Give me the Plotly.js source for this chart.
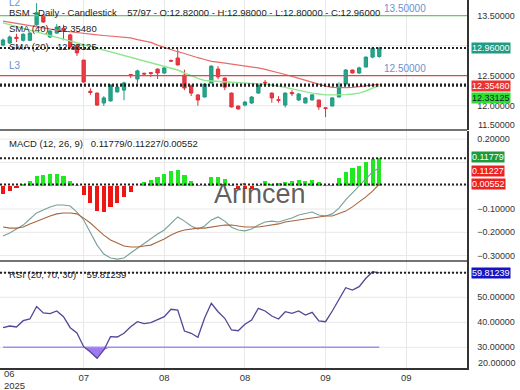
<!DOCTYPE html>
<html><head><meta charset="utf-8">
<script src="https://cdn.plot.ly/plotly-3.0.1.min.js"></script>
<style>html,body{margin:0;padding:0;background:#fff}#chart{width:520px;height:390px}</style>
</head><body><div id="chart"></div>
<script>
// ---- data ----
const openP  = [13.01,13.045,13.14,13.09,13.09,13.35,13.51,13.145,13.21,13.29,13.18,13.01,12.76,12.24,12.21,12.045,12.08,12.23,12.26,12.52,12.445,12.54,12.55,12.61,12.545,12.75,12.795,12.51,12.33,12.18,12.145,12.38,12.61,12.46,12.21,11.995,12.01,12.045,12.21,12.39,12.21,12.1,12.01,12.22,12.095,12.045,12.095,12.095,11.965,11.995,12.145,12.36,12.595,12.545,12.645,12.81,12.82];
const highP  = [13.12,13.17,13.2,13.21,13.23,13.71,13.53,13.26,13.36,13.35,13.2,13.02,12.76,12.29,12.22,12.16,12.35,12.33,12.4,12.53,12.6,12.55,12.56,12.62,12.64,12.77,12.95,12.6,12.35,12.19,12.37,12.67,12.66,12.47,12.22,12.0,12.08,12.16,12.36,12.43,12.22,12.16,12.22,12.26,12.21,12.14,12.2,12.1,11.97,12.14,12.39,12.61,12.6,12.65,12.82,12.98,12.98];
const lowP   = [12.99,13.03,13.06,13.07,13.08,13.33,13.38,13.13,13.2,13.09,12.96,12.83,12.38,12.18,12.0,11.995,12.07,12.22,12.09,12.46,12.38,12.5,12.48,12.445,12.53,12.73,12.67,12.26,12.16,12.0,12.14,12.37,12.44,12.26,11.97,11.94,11.99,12.03,12.2,12.33,12.05,12.05,11.97,12.16,12.08,12.04,12.09,11.93,11.81,11.99,12.14,12.35,12.54,12.53,12.64,12.79,12.8];
const closeP = [13.095,13.145,13.12,13.19,13.21,13.55,13.395,13.245,13.31,13.25,12.98,12.88,12.395,12.22,12.01,12.13,12.345,12.31,12.38,12.5,12.58,12.53,12.54,12.545,12.63,12.745,12.68,12.295,12.21,12.095,12.36,12.66,12.48,12.31,11.98,11.945,12.06,12.145,12.345,12.38,12.13,12.09,12.21,12.2,12.195,12.13,12.18,11.98,11.955,12.13,12.31,12.595,12.545,12.63,12.81,12.96,12.96];
const sma40 = [13.41,13.39,13.37,13.35,13.33,13.31,13.29,13.27,13.26,13.245,13.23,13.22,13.205,13.195,13.18,13.17,13.16,13.15,13.14,13.13,13.10,13.08,13.055,13.01,12.97,12.94,12.90,12.87,12.83,12.80,12.77,12.74,12.725,12.71,12.69,12.67,12.655,12.64,12.63,12.605,12.58,12.555,12.52,12.49,12.455,12.42,12.385,12.35,12.325,12.305,12.30,12.30,12.305,12.32,12.335,12.348,12.3548];
const sma20 = [13.38,13.35,13.32,13.29,13.26,13.23,13.20,13.17,13.14,13.11,13.08,13.05,13.02,12.99,12.96,12.93,12.895,12.865,12.835,12.81,12.78,12.745,12.71,12.68,12.655,12.625,12.595,12.545,12.495,12.455,12.42,12.41,12.40,12.395,12.39,12.385,12.38,12.37,12.36,12.355,12.345,12.33,12.305,12.28,12.255,12.23,12.21,12.195,12.18,12.18,12.18,12.185,12.195,12.21,12.245,12.295,12.33125];
const macdHist = [-0.037,-0.021,-0.01,0.008,0.02,0.043,0.046,0.05,0.05,0.042,0.019,0.003,-0.04,-0.076,-0.107,-0.112,-0.09,-0.073,-0.05,-0.026,-0.002,0.015,0.025,0.039,0.049,0.064,0.067,0.046,0.02,0.003,0.002,0.036,0.039,0.027,0.003,-0.014,-0.014,-0.014,0.004,0.02,0.008,0.01,0.015,0.022,0.025,0.02,0.025,0.015,0.002,0.003,0.032,0.06,0.074,0.084,0.1,0.113,0.1178];
const macdLine = [-0.216,-0.203,-0.186,-0.169,-0.143,-0.117,-0.104,-0.091,-0.083,-0.083,-0.087,-0.113,-0.147,-0.199,-0.255,-0.293,-0.310,-0.315,-0.310,-0.289,-0.268,-0.250,-0.229,-0.207,-0.190,-0.164,-0.134,-0.152,-0.173,-0.186,-0.173,-0.147,-0.134,-0.152,-0.178,-0.190,-0.194,-0.186,-0.169,-0.156,-0.152,-0.156,-0.147,-0.139,-0.126,-0.121,-0.113,-0.126,-0.130,-0.121,-0.096,-0.061,-0.031,-0.001,0.033,0.059,0.076];
const macdSignal = [-0.177,-0.182,-0.182,-0.177,-0.164,-0.152,-0.139,-0.130,-0.121,-0.117,-0.117,-0.121,-0.139,-0.160,-0.186,-0.212,-0.233,-0.246,-0.259,-0.263,-0.263,-0.259,-0.255,-0.242,-0.229,-0.212,-0.199,-0.190,-0.186,-0.182,-0.182,-0.177,-0.173,-0.169,-0.169,-0.173,-0.177,-0.177,-0.177,-0.173,-0.169,-0.164,-0.156,-0.152,-0.147,-0.143,-0.139,-0.134,-0.130,-0.130,-0.121,-0.109,-0.091,-0.070,-0.048,-0.023,0.007];
const macdReadout = [0.11779, 0.11227, 0.00552];
const rsi = [37.84,38.52,38.12,40.64,41.32,46.32,43.72,43.44,44.52,42.24,37.84,35.72,30.24,28.12,25.6,28.92,34.24,34.12,35.6,38.24,40.24,39.44,39.84,40.92,42.24,45.2,44.92,36.52,35.6,34.0,41.72,47.6,44.24,41.6,36.92,36.64,39.2,40.92,45.6,44.52,42.52,41.32,44.24,43.6,44.52,42.92,44.0,40.52,40.24,44.52,48.92,53.84,52.92,54.24,57.6,60.24,59.81239];
const rsiLevel = 30;
const levels = [13.5, 12.5];
const levelNames = ['L2', 'L3'];
const xTickPos = [0, 12, 24, 36, 48, 60];
const xTickText = ['06', '07', '08', '08', '09', '09'];
const yearLabel = '2025';
const priceTicks = [12.0, 12.5, 13.5];
const macdTicks = [-0.3, -0.2, -0.1, 0.2];
const rsiTicks = [30, 40, 50];

// ---- layout helpers (pixel placement) ----
const W = 520, H = 390, PR = 53, PB = 22;
const PW = W - PR, PH = H - PB;
const px = v => v / PW;
const py = v => (PH - v) / PH;
const FONT = 'Liberation Sans, Arial, sans-serif';
const FS = 9.5;
const idx = closeP.map((_, i) => i);
const n = idx.length - 1;
const f5 = v => v.toFixed(5);

const traces = [];
traces.push({type:'scatter', mode:'lines', x:idx, y:sma40, xaxis:'x', yaxis:'y', line:{color:'#e86a6a', width:1.2}, hoverinfo:'skip'});
traces.push({type:'scatter', mode:'lines', x:idx, y:sma20, xaxis:'x', yaxis:'y', line:{color:'#8ee88e', width:1.4}, hoverinfo:'skip'});
traces.push({type:'candlestick', x:idx, open:openP, high:highP, low:lowP, close:closeP, xaxis:'x', yaxis:'y',
  increasing:{line:{color:'#1e9a80', width:1}, fillcolor:'#26a68b'},
  decreasing:{line:{color:'#e0303a', width:1}, fillcolor:'#ea3a44'},
  whiskerwidth:0, hoverinfo:'skip'});
traces.push({type:'bar', x:idx, y:macdHist, xaxis:'x', yaxis:'y2', width:0.62,
  marker:{color:macdHist.map(v => v >= 0 ? '#22e822' : '#ee1515'), line:{width:0}}, hoverinfo:'skip'});
traces.push({type:'scatter', mode:'lines', x:idx, y:macdLine, xaxis:'x', yaxis:'y2', line:{color:'#78a096', width:1.1}, hoverinfo:'skip'});
traces.push({type:'scatter', mode:'lines', x:idx, y:macdSignal, xaxis:'x', yaxis:'y2', line:{color:'#a8663e', width:1.1}, hoverinfo:'skip'});
traces.push({type:'scatter', mode:'lines', x:idx, y:idx.map(() => rsiLevel), xaxis:'x', yaxis:'y3', line:{color:'#a68cf0', width:1.5}, hoverinfo:'skip'});
traces.push({type:'scatter', mode:'lines', x:idx, y:rsi.map(v => Math.min(v, rsiLevel)), xaxis:'x', yaxis:'y3', line:{width:0, color:'rgba(0,0,0,0)'}, fill:'tonexty', fillcolor:'rgba(140,100,235,0.85)', hoverinfo:'skip'});
traces.push({type:'scatter', mode:'lines', x:idx, y:rsi, xaxis:'x', yaxis:'y3', line:{color:'#534697', width:1.3}, hoverinfo:'skip'});

const shapes = [];
const levelColors = ['#66cc66', '#e04848'];
levels.forEach((lv, k) => shapes.push({type:'line', xref:'paper', x0:0, x1:1, yref:'y', y0:lv, y1:lv, line:{color:levelColors[k], width:1.3}}));
const dotted = (yref, v) => shapes.push({type:'line', xref:'paper', x0:0, x1:1, yref:yref, y0:v, y1:v, line:{color:'#222', width:2, dash:'2px,2px'}});
dotted('y', closeP[n]); dotted('y', sma40[n]); dotted('y', sma20[n]);
dotted('y2', macdReadout[0]); dotted('y2', macdReadout[2]);
dotted('y3', rsi[n]);
[py(130), py(261)].forEach(v => shapes.push({type:'line', xref:'paper', x0:0, x1:1, yref:'paper', y0:v, y1:v, line:{color:'#444', width:1.5}}));

const ann = [];
const txt = (text, x, y, opts={}) => ann.push(Object.assign({xref:'paper', yref:'paper', x:px(x), y:py(y), text:text, showarrow:false, xanchor:'left', yanchor:'middle', font:{family:FONT, size:FS, color:'#222'}}, opts));
txt('BSM - Daily - Candlestick    57/97 - O:' + f5(openP[n]) + ' - H:' + f5(highP[n]) + ' - L:' + f5(lowP[n]) + ' - C:' + f5(closeP[n]), 7, 12.5);
txt('SMA (40) - ' + f5(sma40[n]), 7, 29);
txt('SMA (20) - ' + f5(sma20[n]), 7, 46);
txt('MACD (12, 26, 9)   ' + macdReadout.map(f5).join('/'), 7, 143.5);
txt('RSI (20, 70, 30)    ' + f5(rsi[n]), 7, 274);
txt('Arincen', 260, 194, {xanchor:'center', font:{family:FONT, size:27, color:'rgba(75,75,75,0.9)'}});
// level labels
const levelNameShift = [13, 10];
levels.forEach((lv, k) => {
  ann.push({xref:'x', yref:'y', x:n + 0.4, y:lv, yshift:7, text:f5(lv), showarrow:false, xanchor:'left', yanchor:'middle', font:{family:FONT, size:10, color:'#6b8fd0'}});
  ann.push({xref:'paper', yref:'y', x:px(7), y:lv, yshift:levelNameShift[k], text:levelNames[k], showarrow:false, xanchor:'left', yanchor:'middle', font:{family:FONT, size:10, color:'#6b8fd0'}});
});
// right-side value boxes
const box = (yref, v, bg, fg, shift) => ann.push({xref:'paper', yref:yref, x:1, xshift:4, y:v, yshift:shift||0, text:f5(v), showarrow:false, xanchor:'left', yanchor:'middle', bgcolor:bg, borderpad:0, font:{family:FONT, size:9, color:fg}});
box('y', closeP[n], '#1f9c83', '#fff');
box('y', sma40[n], '#ee3030', '#fff', -2);
box('y', sma20[n], '#30dd30', '#123', -12);
box('y2', macdReadout[0], '#1c9a3c', '#fff', 1);
box('y2', macdReadout[1], '#ee2020', '#fff', -11);
box('y2', macdReadout[2], '#ee2020', '#fff', 0);
box('y3', rsi[n], '#1414c4', '#fff', 0);
// clamped edge labels
txt('11.50000', 476, 125, {font:{family:FONT, size:9, color:'#333'}});
txt('20.00000', 476, 363, {font:{family:FONT, size:9, color:'#333'}});
// first x label + year (two lines in one label)
ann.push({xref:'x', yref:'paper', x:xTickPos[0], y:0, yshift:1, text:xTickText[0] + '<br>' + yearLabel, showarrow:false, xanchor:'left', yanchor:'top', align:'left', borderpad:0, font:{family:FONT, size:FS, color:'#333'}});

const yax = (dom, rng, tv) => ({domain:dom, range:rng, side:'right', anchor:'x', tickmode:'array', tickvals:tv, tickformat:'.5f',
  showgrid:false, zeroline:false, showline:true, linecolor:'#333', linewidth:1.5,
  ticks:'outside', ticklen:7, tickcolor:'rgba(0,0,0,0)', tickfont:{family:FONT, size:9, color:'#333'}, fixedrange:true});

// gridlines (full set of levels per panel, drawn as thin shapes)
const gridLevels = {y:[12.0, 12.5, 13.0, 13.5], y2:[-0.3, -0.2, -0.1, 0.0, 0.1, 0.2], y3:[20, 30, 40, 50, 60]};
Object.keys(gridLevels).forEach(ax => gridLevels[ax].forEach(v => shapes.unshift({type:'line', layer:'below', xref:'paper', x0:0, x1:1, yref:ax, y0:v, y1:v, line:{color:'#e8e8e8', width:1}})));

const layout = {
  width:W, height:H, margin:{l:0, r:PR, t:0, b:PB}, paper_bgcolor:'#fff', plot_bgcolor:'#fff',
  showlegend:false, bargap:0, hovermode:false,
  xaxis:{domain:[0,1], range:[-0.45, 69.05], anchor:'y3', tickmode:'array', tickvals:xTickPos.slice(1), ticktext:xTickText.slice(1),
    showgrid:true, gridcolor:'#e8e8e8', zeroline:false, showline:true, linecolor:'#333', linewidth:1.5, ticks:'', ticklen:0,
    tickfont:{family:FONT, size:FS, color:'#333'}, rangeslider:{visible:false}, fixedrange:true},
  yaxis: yax([py(130), 1], [11.595, 13.7617], priceTicks),
  yaxis2: yax([py(261), py(131)], [-0.3232, 0.2348], macdTicks),
  yaxis3: yax([0, py(261)], [21.72, 64.52], rsiTicks),
  shapes:shapes, annotations:ann
};
Plotly.newPlot('chart', traces, layout, {displayModeBar:false, staticPlot:true});
</script></body></html>
